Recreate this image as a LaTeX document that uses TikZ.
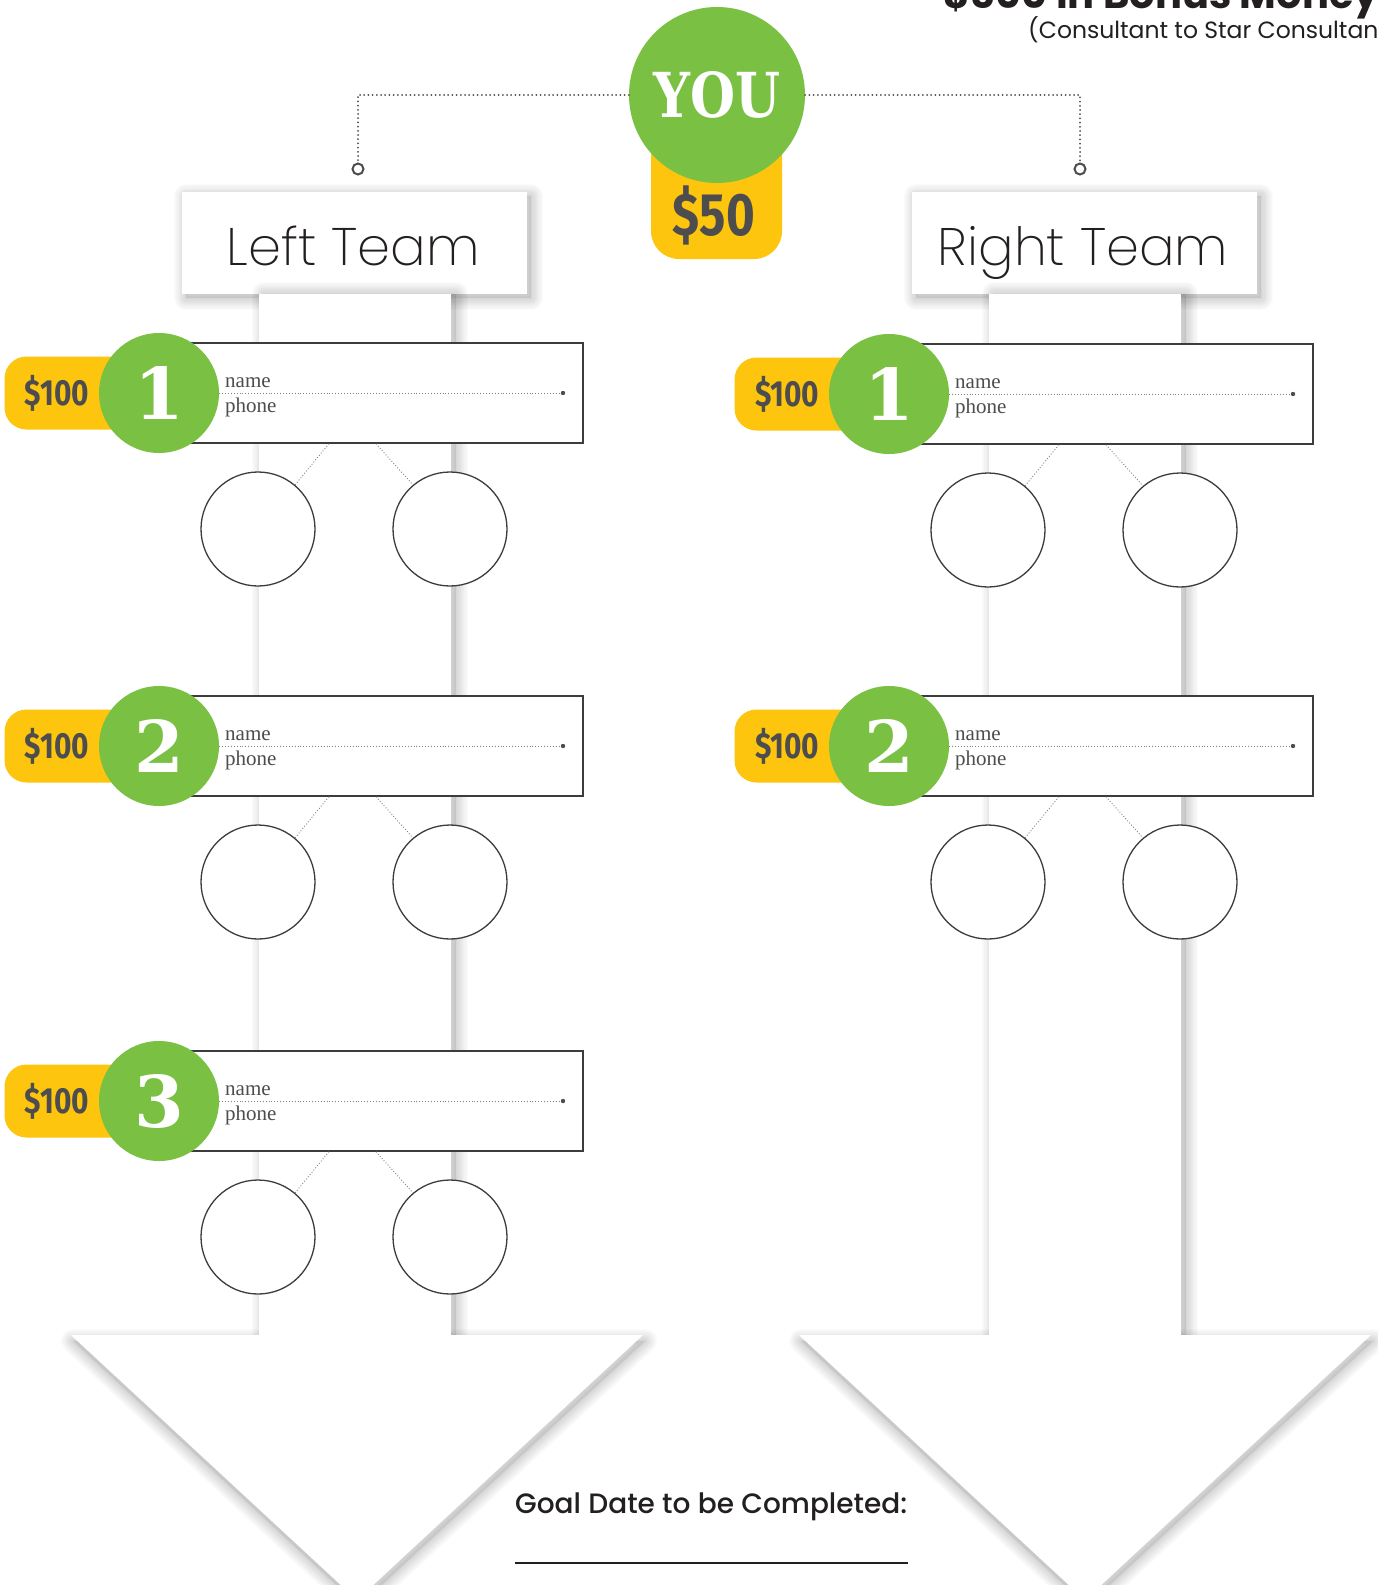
\documentclass[tikz,border=0pt]{standalone}
\usepackage{fontspec}
\usetikzlibrary{calc}
\setmainfont{Poppins}
\IfFontExistsTF{Poppins ExtraLight}{\newfontfamily\lightf{Poppins ExtraLight}}{%
 \IfFontExistsTF{Poppins Light}{\newfontfamily\lightf{Poppins Light}}{%
  \IfFontExistsTF{FiraSans-ExtraLight.otf}{\newfontfamily\lightf{FiraSans-ExtraLight.otf}}{%
   \IfFontExistsTF{Lato Light}{\newfontfamily\lightf{Lato Light}}{%
    \IfFontExistsTF{Open Sans Light}{\newfontfamily\lightf{Open Sans Light}}{\newfontfamily\lightf{Poppins}}}}}}
\IfFontExistsTF{Poppins Medium}{\newfontfamily\medf{Poppins Medium}}{\newfontfamily\medf{Poppins}}
\newfontfamily\slabf{DejaVu Serif}
\newfontfamily\condf{Fira Sans}[FakeStretch=0.82]
\newfontfamily\namef{Liberation Serif}
\definecolor{tgreen}{HTML}{7AC143}
\definecolor{tyellow}{HTML}{FDC50E}
\definecolor{dtext}{HTML}{4D4D4F}
\definecolor{linec}{HTML}{3C3C3C}
\definecolor{titlec}{HTML}{231F20}
\tikzset{
  membox/.style={draw=linec, line width=1.5pt, fill=white, minimum width=398pt, minimum height=100pt, inner sep=0pt},
  numc/.style={circle, fill=tgreen, minimum size=120pt, inner sep=0pt, text=white, font=\slabf\bfseries},
  tagbox/.style={fill=tyellow, rounded corners=22pt, minimum width=135pt, minimum height=73pt, inner sep=0pt},
  amt/.style={text=dtext, inner sep=0pt, font=\condf\bfseries},
  kid/.style={circle, draw=linec, line width=1.3pt, fill=white, minimum size=114pt, inner sep=0pt},
  lbl/.style={inner sep=0pt, text=dtext, font=\namef\fontsize{21}{21}\selectfont},
  boxdot/.style={draw=gray, line width=0.9pt, dotted},
  kiddot/.style={draw=gray, line width=0.9pt, dotted},
  topdot/.style={draw=dtext, line width=2pt, dash pattern=on 0pt off 4.2pt, line cap=round},
  ring/.style={circle, draw=dtext, line width=2pt, fill=white, minimum size=11pt, inner sep=0pt},
  teambox/.style={fill=white, minimum width=345pt, minimum height=102pt, inner sep=0pt},
  teamtxt/.style={inner sep=0pt, anchor=base, text=titlec},
}
% soft shadow: #1 xshift, #2 yshift (canvas, pt), #3 path
\newcommand\softshadow[3]{%
  \begin{scope}[xshift=#1pt, yshift=#2pt]
  \foreach \i in {1,...,10}{\draw[black, opacity=0.017, line width=\i*2.4pt, line join=round] #3;}%
  \fill[black, opacity=0.08] #3;
  \end{scope}}
\newcommand\memrow[4]{%
\begin{scope}[xshift=#2pt]
  \node[tagbox] (#1tag) at (72,#3) {};
  \node[amt] (#1amt) at (57,#3) {\resizebox{64pt}{!}{\$100}};
  \node[membox] (#1box) at (384,#3) {};
  \node[numc] (#1num) at (159,#3) {\resizebox{!}{53pt}{#4}};
  \coordinate (#1dot) at (563,#3);
  \draw[boxdot] (#1num.east) -- (#1dot);
  \fill[dtext] (#1dot) circle (2.2pt);
  \node[lbl, anchor=base west] (#1name) at (225,#3-6) {name};
  \node[lbl, anchor=base west] (#1phone) at (225,#3+19) {phone};
  \node[kid] (#1a) at (258,#3+136) {};
  \node[kid] (#1b) at (450,#3+136) {};
  \coordinate (#1sa) at ($(#1box.south west)!0.362!(#1box.south east)$);
  \coordinate (#1sb) at ($(#1box.south west)!0.48!(#1box.south east)$);
  \draw[kiddot] (#1sa) -- (#1a.50);
  \draw[kiddot] (#1sb) -- (#1b.130);
\end{scope}}
\begin{document}
\begin{tikzpicture}[x=1pt, y=-1pt]
\useasboundingbox (0,0) rectangle (1378,1585);
\clip (0,0) rectangle (1378,1585);
\fill[white] (0,0) rectangle (1378,1585);
% header
\node[anchor=base west, inner sep=0pt, text=titlec, font=\bfseries\fontsize{40}{40}\selectfont] (title) at (943,8) {\$500 in Bonus Money};
\node[anchor=base west, inner sep=0pt, text=titlec, font=\fontsize{23.5}{24}\selectfont] (sub) at (1028,38) {(Consultant to Star Consultant)};
% team boxes
\softshadow{4}{-4}{(182,192) rectangle (527,294)}
\softshadow{4}{-4}{(912,192) rectangle (1257,294)}
\node[teambox] (lt) at (354.5,243) {};
\node[teambox] (rt) at (1084.5,243) {};
\node[teamtxt] (ltt) at (353,265) {\resizebox{253pt}{!}{\lightf Left Team}};
\node[teamtxt] (rtt) at (1083,265) {\resizebox{290pt}{!}{\lightf Right Team}};
% arrows: heads, then shafts
\softshadow{2}{-6}{(71,1335) -- (643,1335) -- (357,1600) -- cycle}
\softshadow{2}{-6}{(799,1335) -- (1371,1335) -- (1085,1600) -- cycle}
\softshadow{5}{0}{(259,294) rectangle (451,1335)}
\softshadow{5}{0}{(989,294) rectangle (1181,1335)}
\fill[white] (71,1335) -- (643,1335) -- (357,1600) -- cycle;
\fill[white] (799,1335) -- (1371,1335) -- (1085,1600) -- cycle;
\fill[white] (259,294) rectangle (451,1335.5);
\fill[white] (989,294) rectangle (1181,1335.5);
% YOU
\node[fill=tyellow, rounded corners=28pt, minimum width=131pt, minimum height=140pt, inner sep=0pt] (fifty) at (716.5,189) {};
\node[amt, text=dtext] (fiftyt) at (714,215) {\resizebox{82pt}{!}{\$50}};
\node[numc, minimum size=176pt] (you) at (717,95) {\resizebox{127pt}{46pt}{YOU}};
\node[ring] (lring) at (358,169) {};
\node[ring] (rring) at (1080,169) {};
\draw[topdot] (you.west) -| (lring.north);
\draw[topdot] (you.east) -| (rring.north);
% members
\memrow{la}{0}{393}{1}
\memrow{lb}{0}{746}{2}
\memrow{lc}{0}{1101}{3}
\memrow{ra}{730}{394}{1}
\memrow{rb}{730}{746}{2}
% goal
\node[anchor=base west, inner sep=0pt, text=titlec] (goal) at (515,1513) {\resizebox{392pt}{!}{\medf Goal Date to be Completed:}};
\coordinate (gl) at (515,1563);
\coordinate (gr) at (908,1563);
\draw[line width=1.5pt, titlec] (gl) -- (gr);
\end{tikzpicture}
\end{document}
